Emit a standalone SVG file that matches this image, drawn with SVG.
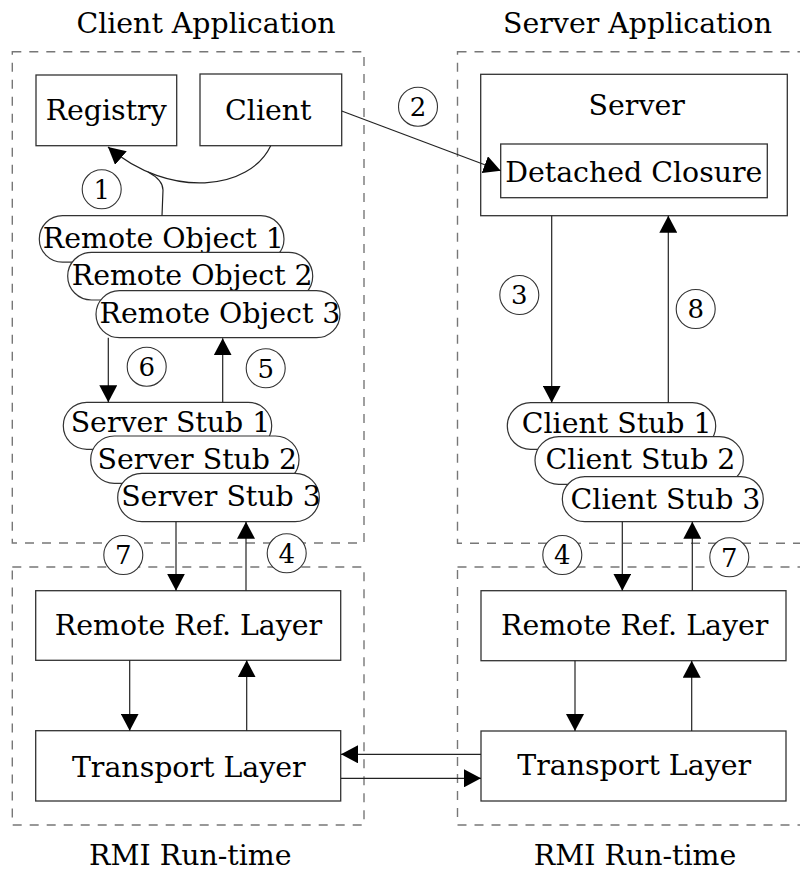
<svg xmlns="http://www.w3.org/2000/svg" width="800" height="873" viewBox="0 0 800 873">
  <style>
    .t { font-family: "DejaVu Serif", "Liberation Serif", serif; font-size: 28.4px; fill: #000; text-anchor: middle; }
    .n { font-family: "DejaVu Serif", "Liberation Serif", serif; font-size: 26px; fill: #000; text-anchor: middle; }
    .area { fill: none; stroke: #777; stroke-width: 1.4; stroke-dasharray: 9 8; }
    .box { fill: #fff; stroke: #333; stroke-width: 1.3; }
    .pill { fill: #fff; stroke: #333; stroke-width: 1.2; }
    .num { fill: #fff; stroke: #333; stroke-width: 1.1; }
    .link { fill: none; stroke: #222; stroke-width: 1.2; }
  </style>
  <defs>
    <marker id="arrow" markerUnits="userSpaceOnUse" markerWidth="18" markerHeight="18" refX="17" refY="9" orient="auto">
      <path d="M0,0 L17,9 L0,18 z" fill="#000"/>
    </marker>
  </defs>
  <rect width="800" height="873" fill="#fff"/>

  <!-- dashed areas -->
  <g id="areas">
    <rect class="area" x="12.3" y="51.7" width="351.7" height="491.3"/>
    <rect class="area" x="12.3" y="567" width="351.7" height="258"/>
    <rect class="area" x="457.5" y="51.7" width="360" height="491.5"/>
    <rect class="area" x="457.5" y="567" width="360" height="258"/>
  </g>

  <!-- area titles -->
  <g id="titles">
    <text class="t" x="206" y="33">Client Application</text>
    <text class="t" x="637.5" y="33">Server Application</text>
    <text class="t" x="190.3" y="865">RMI Run-time</text>
    <text class="t" x="635" y="865">RMI Run-time</text>
  </g>

  <!-- client application -->
  <g id="registry">
    <rect class="box" x="36" y="75" width="140.7" height="70.7"/>
    <text class="t" x="106.2" y="119.5">Registry</text>
  </g>
  <g id="client">
    <rect class="box" x="200" y="74" width="141.7" height="71.7"/>
    <text class="t" x="268.3" y="119.5">Client</text>
  </g>
  <g id="remote-object-1">
    <rect class="pill" x="39.3" y="215.7" width="244.7" height="46.5" rx="23.2"/>
    <text class="t" x="163.3" y="248.3">Remote Object 1</text>
  </g>
  <g id="remote-object-2">
    <rect class="pill" x="67.7" y="252.3" width="245" height="47.7" rx="23.8"/>
    <text class="t" x="192.2" y="285">Remote Object 2</text>
  </g>
  <g id="remote-object-3">
    <rect class="pill" x="96" y="290.7" width="244" height="47" rx="23.5"/>
    <text class="t" x="220" y="323.3">Remote Object 3</text>
  </g>
  <g id="server-stub-1">
    <rect class="pill" x="63.3" y="402.3" width="208.4" height="47" rx="23.5"/>
    <text class="t" x="170.5" y="432.3">Server Stub 1</text>
  </g>
  <g id="server-stub-2">
    <rect class="pill" x="90.7" y="436" width="208.3" height="47.3" rx="23.6"/>
    <text class="t" x="197.3" y="469.3">Server Stub 2</text>
  </g>
  <g id="server-stub-3">
    <rect class="pill" x="117.7" y="473.3" width="201.6" height="48.4" rx="24.2"/>
    <text class="t" x="221" y="506">Server Stub 3</text>
  </g>

  <!-- server application -->
  <g id="server">
    <rect class="box" x="480.7" y="74.3" width="306.6" height="141.4"/>
    <text class="t" x="636.7" y="115">Server</text>
  </g>
  <g id="detached-closure">
    <rect class="box" x="500.7" y="144" width="266.6" height="53.7"/>
    <text class="t" x="633.8" y="181.5">Detached Closure</text>
  </g>
  <g id="client-stub-1">
    <rect class="pill" x="507.3" y="402.7" width="208.4" height="46.6" rx="23.3"/>
    <text class="t" x="616.7" y="433.3">Client Stub 1</text>
  </g>
  <g id="client-stub-2">
    <rect class="pill" x="535" y="436.7" width="208.3" height="47.6" rx="23.8"/>
    <text class="t" x="640.5" y="469.3">Client Stub 2</text>
  </g>
  <g id="client-stub-3">
    <rect class="pill" x="562.3" y="476.7" width="201" height="45" rx="22.5"/>
    <text class="t" x="665.5" y="509">Client Stub 3</text>
  </g>

  <!-- RMI run-time layers -->
  <g id="client-remote-ref">
    <rect class="box" x="35.7" y="590.7" width="305" height="69.6"/>
    <text class="t" x="188.5" y="635">Remote Ref. Layer</text>
  </g>
  <g id="client-transport">
    <rect class="box" x="35.7" y="730.7" width="305" height="70.3"/>
    <text class="t" x="188.8" y="776.7">Transport Layer</text>
  </g>
  <g id="server-remote-ref">
    <rect class="box" x="481" y="590.7" width="305" height="70"/>
    <text class="t" x="634.7" y="635">Remote Ref. Layer</text>
  </g>
  <g id="server-transport">
    <rect class="box" x="481" y="731" width="305" height="70"/>
    <text class="t" x="634.2" y="775">Transport Layer</text>
  </g>

  <!-- connectors -->
  <g id="connectors">
    <path class="link" d="M270.7,145.7 C250,190 170,200 108,147" marker-end="url(#arrow)"/>
    <path class="link" d="M162,215.7 L163,190 Q163,180 148,172"/>
    <line class="link" x1="341.7" y1="111" x2="500.7" y2="170.7" marker-end="url(#arrow)"/>
    <line class="link" x1="551.7" y1="215.7" x2="551.7" y2="402.7" marker-end="url(#arrow)"/>
    <line class="link" x1="668.3" y1="402.7" x2="668.3" y2="215.7" marker-end="url(#arrow)"/>
    <line class="link" x1="108.3" y1="337.7" x2="108.3" y2="402.3" marker-end="url(#arrow)"/>
    <line class="link" x1="222.7" y1="402.3" x2="222.7" y2="338.3" marker-end="url(#arrow)"/>
    <line class="link" x1="176" y1="521.7" x2="176" y2="590.7" marker-end="url(#arrow)"/>
    <line class="link" x1="246" y1="590.7" x2="246" y2="521.7" marker-end="url(#arrow)"/>
    <line class="link" x1="622.3" y1="521.7" x2="622.3" y2="590.7" marker-end="url(#arrow)"/>
    <line class="link" x1="692.3" y1="590.7" x2="692.3" y2="521.7" marker-end="url(#arrow)"/>
    <line class="link" x1="129.7" y1="660.3" x2="129.7" y2="730.7" marker-end="url(#arrow)"/>
    <line class="link" x1="246.7" y1="730.7" x2="246.7" y2="660.3" marker-end="url(#arrow)"/>
    <line class="link" x1="575" y1="660.7" x2="575" y2="731" marker-end="url(#arrow)"/>
    <line class="link" x1="691.7" y1="731" x2="691.7" y2="660.7" marker-end="url(#arrow)"/>
    <line class="link" x1="481" y1="754.3" x2="341" y2="754.3" marker-end="url(#arrow)"/>
    <line class="link" x1="341" y1="778.3" x2="481" y2="778.3" marker-end="url(#arrow)"/>
  </g>

  <!-- step numbers -->
  <g id="steps">
    <circle class="num" cx="101.7" cy="189.3" r="19.5"/><text class="n" x="101.7" y="198.5">1</text>
    <circle class="num" cx="418" cy="106.7" r="19.5"/><text class="n" x="418" y="115.9">2</text>
    <circle class="num" cx="519.3" cy="295" r="19.5"/><text class="n" x="519.3" y="304.2">3</text>
    <circle class="num" cx="695.7" cy="309" r="19.5"/><text class="n" x="695.7" y="318.2">8</text>
    <circle class="num" cx="146.7" cy="366.7" r="19.5"/><text class="n" x="146.7" y="375.9">6</text>
    <circle class="num" cx="265.7" cy="368.3" r="19.5"/><text class="n" x="265.7" y="377.5">5</text>
    <circle class="num" cx="123.3" cy="555" r="19.5"/><text class="n" x="123.3" y="564.2">7</text>
    <circle class="num" cx="286.7" cy="553.3" r="19.5"/><text class="n" x="286.7" y="562.5">4</text>
    <circle class="num" cx="562.3" cy="555" r="19.5"/><text class="n" x="562.3" y="564.2">4</text>
    <circle class="num" cx="729.3" cy="557.3" r="19.5"/><text class="n" x="729.3" y="566.5">7</text>
  </g>
</svg>
